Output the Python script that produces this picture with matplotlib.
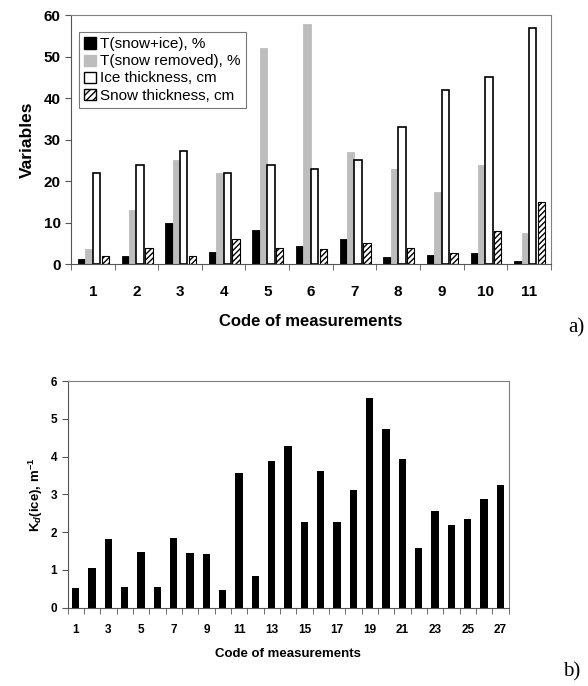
import numpy as np
import matplotlib.pyplot as plt
from matplotlib.patches import Patch

plt.rcParams["font.family"] = ["Liberation Sans", "DejaVu Sans"]
plt.rcParams["mathtext.fontset"] = "custom"
plt.rcParams["mathtext.rm"] = "Liberation Sans:bold"
plt.rcParams["mathtext.it"] = "Liberation Sans:italic:bold"
plt.rcParams["hatch.linewidth"] = 1.0

# ---- panel a) data ----
codes_a = np.arange(1, 12)
t_snow_ice = [1.2, 2.0, 10.0, 3.0, 8.3, 4.4, 6.0, 1.6, 2.1, 2.6, 0.7]
t_snow_removed = [3.6, 13.0, 25.0, 22.0, 52.0, 57.9, 27.0, 22.9, 17.3, 24.0, 7.5]
ice_thickness = [22.0, 24.0, 27.2, 22.0, 24.0, 23.0, 25.0, 33.0, 42.0, 45.0, 57.0]
snow_thickness = [2.0, 4.0, 2.0, 6.0, 4.0, 3.6, 5.0, 4.0, 2.6, 8.0, 15.0]

# ---- panel b) data ----
codes_b = np.arange(1, 28)
kd_ice = [0.51, 1.04, 1.81, 0.56, 1.47, 0.56, 1.84, 1.44, 1.42, 0.48,
          3.56, 0.83, 3.88, 4.29, 2.28, 3.61, 2.26, 3.12, 5.56, 4.72,
          3.93, 1.57, 2.55, 2.19, 2.36, 2.88, 3.24]

fig = plt.figure(figsize=(5.88, 6.86), dpi=100)

# ---------------- panel a ----------------
ax1 = fig.add_axes([0.1207, 0.615, 0.816, 0.363])
w = 0.17
ax1.bar(codes_a - 1.5 * w, t_snow_ice, w, color="black", edgecolor="black", linewidth=0.6)
ax1.bar(codes_a - 0.5 * w, t_snow_removed, w, color="#bdbdbd", edgecolor="#bdbdbd", linewidth=0.6)
ax1.bar(codes_a + 0.5 * w, ice_thickness, w, color="white", edgecolor="black", linewidth=1.2)
ax1.bar(codes_a + 1.5 * w + 0.03, snow_thickness, w, color="white", edgecolor="black",
        linewidth=0.8, hatch="//////")

ax1.set_xlim(0.5, 11.5)
ax1.set_ylim(0, 60)
ax1.set_yticks(np.arange(0, 61, 10))
ax1.set_xticks(codes_a)
ax1.set_xticks(np.arange(0.5, 11.6, 1), minor=True)
ax1.tick_params(axis="x", which="major", length=0, pad=15, labelsize=11)
ax1.tick_params(axis="x", which="minor", length=4, direction="out", color="#555555")
ax1.tick_params(axis="y", length=4, labelsize=11, color="#555555")
for lab in ax1.get_xticklabels() + ax1.get_yticklabels():
    lab.set_fontweight("bold")
ax1.set_ylabel("Variables", fontsize=12.5, fontweight="bold", labelpad=6)
ax1.set_xlabel("Code of measurements", fontsize=12, fontweight="bold", labelpad=11)
for s in ["top", "right"]:
    ax1.spines[s].set_color("#808080")
for s in ["left", "bottom"]:
    ax1.spines[s].set_color("#555555")

handles = [
    Patch(facecolor="black", edgecolor="black", label="T(snow+ice), %"),
    Patch(facecolor="#bdbdbd", edgecolor="#bdbdbd", label="T(snow removed), %"),
    Patch(facecolor="white", edgecolor="black", label="Ice thickness, cm"),
    Patch(facecolor="white", edgecolor="black", hatch="/////", label="Snow thickness, cm"),
]
leg = ax1.legend(handles=handles, loc="upper left", bbox_to_anchor=(0.017, 0.932),
                 borderaxespad=0, fontsize=11, frameon=True, fancybox=False,
                 handlelength=0.75, handleheight=0.75, handletextpad=0.25,
                 labelspacing=0.2, borderpad=0.35)
leg.get_frame().set_edgecolor("#555555")
leg.get_frame().set_linewidth(0.8)

fig.text(0.966, 0.522, "a)", fontsize=15, family="Liberation Serif", va="center")

# ---------------- panel b ----------------
ax2 = fig.add_axes([0.115, 0.1141, 0.75, 0.3305])
ax2.bar(codes_b, kd_ice, 0.45, color="black")
ax2.set_xlim(0.5, 27.5)
ax2.set_ylim(0, 6)
ax2.set_yticks(np.arange(0, 7, 1))
ax2.set_xticks(codes_b[::2])
ax2.set_xticks(np.arange(0.5, 27.6, 1), minor=True)
ax2.tick_params(axis="x", which="major", length=0, pad=12, labelsize=8.5)
ax2.tick_params(axis="x", which="minor", length=4, direction="out", color="#555555")
ax2.tick_params(axis="y", length=4, labelsize=8.5, color="#555555")
for lab in ax2.get_xticklabels() + ax2.get_yticklabels():
    lab.set_fontweight("bold")
ax2.set_ylabel(r"K$_{d}$(ice), m$^{-1}$", fontsize=9.5, fontweight="bold", labelpad=4)
ax2.set_xlabel("Code of measurements", fontsize=9.5, fontweight="bold", labelpad=8)
for s in ["top", "right"]:
    ax2.spines[s].set_color("#808080")
for s in ["left", "bottom"]:
    ax2.spines[s].set_color("#555555")

fig.text(0.957, 0.0204, "b)", fontsize=15, family="Liberation Serif", va="center")

fig.savefig("out.png", dpi=100)
